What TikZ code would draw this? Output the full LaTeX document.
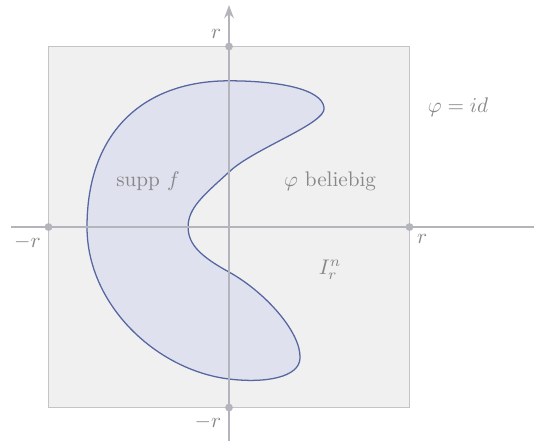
\documentclass[tikz,border=0pt]{standalone}
\usepackage{amsmath,amssymb}
\usepackage{tikz}
\usetikzlibrary{positioning,arrows.meta,calc}
\usepackage{xcolor}
\definecolor{boxgray}{HTML}{F0F0F0}
\definecolor{edgegray}{HTML}{C4C4C8}
\definecolor{axisgray}{HTML}{B4B4BC}
\definecolor{txtgray}{HTML}{888888}
\definecolor{suppfill}{HTML}{DFE1EE}
\definecolor{suppline}{HTML}{5566A0}

\begin{document}
\begin{tikzpicture}[
    axis/.style={axisgray, line width=0.9pt},
    arr/.style={axis, -{Stealth[length=2.2mm, width=1.6mm]}},
    dot/.style={circle, fill=axisgray, inner sep=0pt, minimum size=1.3mm},
    lbl/.style={font=\fontsize{10}{12}\selectfont, text=txtgray, inner sep=2pt},
    supp/.style={fill=suppfill, draw=suppline, line width=0.6pt}
]
\useasboundingbox (-3.806,-3.557) rectangle (5.069,3.773);

% Square I_r^n
\draw[fill=boxgray, draw=edgegray, line width=0.6pt] (-3,-3) rectangle (3,3);

% Support of f
\draw[supp] (-2.36,0) .. controls (-2.36,1.6) and (-1.4,2.43) .. (0,2.43)
    .. controls (0.8,2.43) and (1.55,2.3) .. (1.58,1.98)
    .. controls (1.62,1.72) and (0.4,1.3) .. (0,0.914)
    .. controls (-0.42,0.53) and (-0.68,0.32) .. (-0.68,0)
    .. controls (-0.68,-0.3) and (-0.45,-0.5) .. (0,-0.748)
    .. controls (0.6,-1.08) and (1.2,-1.75) .. (1.18,-2.18)
    .. controls (1.17,-2.5) and (0.6,-2.6) .. (0,-2.526)
    .. controls (-1.2,-2.38) and (-2.36,-1.3) .. cycle;

% Axes
\coordinate (xl) at (-3.623,0);
\coordinate (xr) at (5.069,0);
\coordinate (yb) at (0,-3.557);
\coordinate (yt) at (0,3.69);
\draw[axis] (xl) -- (xr);
\draw[arr] (yb) -- (yt);

% Points on the axes
\node[dot] (rtop) at (0,3) {};
\node[dot] (rbot) at (0,-3) {};
\node[dot] (rleft) at (-3,0) {};
\node[dot] (rright) at (3,0) {};

\node[lbl, above left=0pt and 0pt of rtop] (ltop) {$r$};
\node[lbl, below left=0pt and 0pt of rleft] (lleft) {$-r$};
\node[lbl, below right=0pt and 0pt of rright] (lright) {$r$};
\node[lbl, below left=0pt and 0pt of rbot] (lbot) {$-r$};

% Region labels
\node[lbl] (phiid) at (3.806,1.994) {$\varphi = id$};
\node[lbl] (suppf) at (-1.346,0.765) {supp $f$};
\node[lbl] (phibel) at (1.679,0.765) {$\varphi$ beliebig};
\node[lbl] (cube) at (1.679,-0.715) {$I_r^n$};
\end{tikzpicture}
\end{document}
